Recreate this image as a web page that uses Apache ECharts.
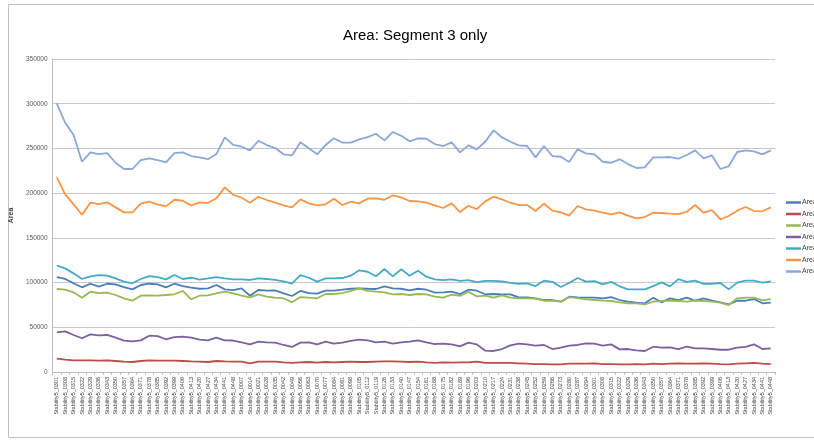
<!DOCTYPE html>
<html>
<head>
<meta charset="utf-8">
<title>Area: Segment 3 only</title>
<script src="https://cdn.jsdelivr.net/npm/echarts@6/dist/echarts.min.js"></script>
<style>html,body{margin:0;padding:0;background:#fff}</style>
</head>
<body>
<div id="main" style="width:814px;height:442px;"></div>
<script>
// x categories
var categories = [
  'Stability5_0301','Stability5_0308','Stability5_0315','Stability5_0322','Stability5_0329','Stability5_0336',
  'Stability5_0343','Stability5_0350','Stability5_0357','Stability5_0364','Stability5_0371','Stability5_0378',
  'Stability5_0385','Stability5_0392','Stability5_0399','Stability5_0406','Stability5_0413','Stability5_0420',
  'Stability5_0427','Stability5_0434','Stability5_0441','Stability5_0448',
  'Stability5_0007','Stability5_0014','Stability5_0021','Stability5_0028','Stability5_0035','Stability5_0042',
  'Stability5_0049','Stability5_0056','Stability5_0063','Stability5_0070','Stability5_0077','Stability5_0084',
  'Stability5_0091','Stability5_0098','Stability5_0105','Stability5_0112','Stability5_0119','Stability5_0126',
  'Stability5_0133','Stability5_0140','Stability5_0147','Stability5_0154','Stability5_0161','Stability5_0168',
  'Stability5_0175','Stability5_0182','Stability5_0189','Stability5_0196','Stability5_0203','Stability5_0210',
  'Stability5_0217','Stability5_0224','Stability5_0231','Stability5_0238','Stability5_0245','Stability5_0252',
  'Stability5_0259','Stability5_0266','Stability5_0273','Stability5_0280','Stability5_0287','Stability5_0294',
  'Stability5_0301','Stability5_0308','Stability5_0315','Stability5_0322','Stability5_0329','Stability5_0336',
  'Stability5_0343','Stability5_0350','Stability5_0357','Stability5_0364','Stability5_0371','Stability5_0378',
  'Stability5_0385','Stability5_0392','Stability5_0399','Stability5_0406','Stability5_0413','Stability5_0420',
  'Stability5_0427','Stability5_0434','Stability5_0441','Stability5_0448'
];

var seriesNames = ['Area 1', 'Area 2', 'Area 3', 'Area 4', 'Area 5', 'Area 6', 'Area 7'];

// dark blue
var area1 = [106200,104000,99200,94700,98700,95400,98700,98000,95000,92400,97300,98700,98000,94700,98700,96100,94300,93100,93500,97300,92400,91500,
  93500,85300,91700,90900,91300,88000,85000,90600,88300,87600,90900,90900,92000,93100,93500,93100,92800,95800,93500,93100,91300,
  93100,92000,88700,89100,89800,87200,92000,90900,86900,87200,86900,86900,83500,83500,82400,80500,80500,78600,84200,83500,83100,
  83100,82400,83800,80500,78600,77500,76800,83100,77900,82400,80500,83100,79700,82400,79700,77900,75700,79700,79700,81600,76800,77500];
// red
var area2 = [14900,13800,13000,13000,13000,12700,13000,12300,11600,11200,12300,13000,12700,12700,12700,12300,11900,11600,11200,12300,11900,11600,
  11600,9700,11600,11600,11600,10800,10100,10800,11200,10400,11200,10800,11200,11600,11200,11200,11600,11900,11900,11600,11200,
  11600,10800,10100,10800,10400,10800,10800,11600,10100,10100,10100,10100,9700,9300,8900,8900,8600,8600,9300,9300,9300,
  9700,8900,8900,8600,8600,8900,8600,9300,8900,9300,9700,9300,9300,9700,9300,8900,8600,9300,9700,10100,9300,8900];
// green
var area3 = [92800,92000,89100,83100,89800,88300,88700,86100,82400,79700,85300,85700,85300,86100,86900,90600,81300,85300,85700,88000,89800,88000,
  85300,83500,86900,84200,83100,82400,77900,83800,83100,82400,87200,87200,88300,90600,93500,90600,89800,89100,86900,87200,86100,
  87200,86900,84200,83100,86500,85000,89800,84600,85300,83100,85700,83100,82400,82400,82000,79700,79700,78600,83800,82700,81300,
  80500,79700,79400,77900,76800,76800,75700,78600,79400,79700,79400,78600,79700,79400,78600,77500,74900,82400,83100,83100,80100,81600];
// purple
var area4 = [44400,45500,41400,37700,42100,41000,41400,38400,35000,34300,35400,40600,40200,36600,39100,39500,38400,36100,35400,38400,35400,35200,
  33200,30900,33900,33200,32800,30200,28000,32800,33200,30900,33900,31700,32800,34700,36100,35400,33200,33900,31700,33200,33900,
  35400,33200,31300,31700,30900,28700,32800,30900,23800,23500,25700,29800,31700,30900,29400,30200,25700,27200,29400,30200,32100,
  31700,29400,30900,25300,25700,24200,23500,28300,27200,27600,25700,28300,26500,26500,25700,24900,24900,27200,28000,30900,25700,26500];
// teal
var area5 = [118900,115900,110300,104000,107000,108400,107700,104700,101000,99200,104000,107300,106200,103600,108400,104000,105400,103200,104700,106200,104700,103600,
  103600,102900,104700,104000,102900,101400,98700,108400,105400,101000,104700,104700,105100,107700,113700,112100,107000,115200,107000,114800,107700,
  113300,106600,103500,102700,103500,102000,102700,100500,102000,102000,101200,99700,98500,99000,
  96100,102100,100800,95000,99500,105100,101000,101700,98000,100800,95800,92400,92400,92400,96100,100200,95800,103900,100800,102100,98500,98500,99500,92400,99900,102100,102100,99900,101300];
// orange
var area6 = [217700,198700,187500,175900,189300,187800,189700,184100,178500,178500,188200,190400,187500,185200,192600,191500,186300,189700,188900,194200,206500,198200,194900,189300,196000,192300,189300,186300,
  184100,193100,188600,186300,187500,193800,186700,190400,188600,193800,194200,192600,197500,195300,191200,190800,189300,186300,183400,188600,178900,185900,182200,190800,196000,193100,189300,186700,
  186700,180000,188200,180400,178500,174800,185600,181900,180400,178100,176300,178500,174800,171800,173300,178100,177800,177000,176600,179200,186700,178100,181100,170700,174400,180400,184500,180000,179700,184100];
// light blue
var area7 = [300400,278700,265000,235100,245600,243700,244800,234000,227000,227000,237000,239000,237000,234500,244800,245600,241500,240000,238000,243700,262400,254000,251900,247800,258600,253800,250400,243400,
  242200,256800,250100,243400,253800,261300,256400,256400,260100,262700,266400,259000,268300,264200,257900,261300,260800,254900,252700,256800,245600,253400,249000,257500,270200,262400,257500,253400,
  252700,240000,252700,241500,240700,234800,249000,244500,243400,235100,234000,237800,232500,228100,228800,240000,240000,240400,238500,242600,247800,238900,242200,227000,230300,246000,247800,246700,243400,247800];

var seriesData = [area1, area2, area3, area4, area5, area6, area7];
var colors = ['#4a7ebb', '#be4b48', '#98b954', '#7d60a0', '#46aac5', '#f79646', '#8aa8d8'];

var myChart = echarts.init(document.getElementById('main'));

var series = [];
for (var i = 0; i < seriesData.length; i++) {
    series.push({
        name: seriesNames[i],
        type: 'line',
        data: seriesData[i],
        symbol: 'none',
        lineStyle: { width: 1.8, color: colors[i] },
        itemStyle: { color: colors[i] }
    });
}

var option = {
    animation: false,
    textStyle: { fontFamily: 'Liberation Sans, Arial, sans-serif' },
    title: {
        text: 'Area: Segment 3 only',
        left: 338,
        top: 23,
        textStyle: { fontSize: 15, fontWeight: 'normal', color: '#000' }
    },
    legend: {
        orient: 'vertical',
        left: 781,
        top: 194,
        itemWidth: 15,
        itemHeight: 2.5,
        itemGap: 4.5,
        icon: 'rect',
        data: seriesNames,
        textStyle: { fontSize: 7, color: '#404040', padding: [0, 0, 0, -4] }
    },
    grid: {
        left: 52,
        right: 39,
        top: 59,
        bottom: 70
    },
    xAxis: {
        type: 'category',
        data: categories,
        boundaryGap: true,
        axisLine: { lineStyle: { color: '#bfbfbf' } },
        axisTick: { show: true, interval: 0, length: 3, lineStyle: { color: '#bfbfbf' } },
        axisLabel: {
            interval: 0,
            rotate: 90,
            fontSize: 5.5,
            color: '#404040',
            margin: 5
        }
    },
    yAxis: {
        type: 'value',
        min: 0,
        max: 350000,
        interval: 50000,
        name: 'Area',
        nameLocation: 'middle',
        nameGap: 32,
        nameTextStyle: { fontSize: 7, fontWeight: 'bold', color: '#404040' },
        axisLine: { show: true, lineStyle: { color: '#bfbfbf' } },
        axisTick: { show: false },
        axisLabel: {
            fontSize: 6.5,
            color: '#595959',
            margin: 5,
            formatter: function (v) { return String(v); }   // no thousands separators
        },
        splitLine: { lineStyle: { color: '#c8c8c8', width: 1 } }
    },
    graphic: [{
        type: 'rect',
        shape: { x: 8.5, y: 4.5, width: 830, height: 433 },
        style: { fill: 'none', stroke: '#c0c0c0', lineWidth: 1 },
        silent: true
    }],
    series: series
};

myChart.setOption(option);
</script>
</body>
</html>
